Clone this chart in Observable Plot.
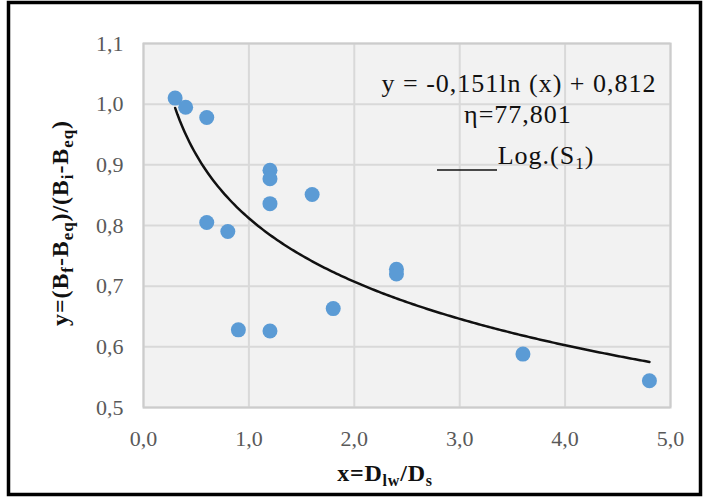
<!DOCTYPE html>
<html><head><meta charset="utf-8">
<script src="https://cdn.jsdelivr.net/npm/d3@7"></script>
<script src="https://cdn.jsdelivr.net/npm/@observablehq/plot@0.6"></script>
<style>body{margin:0;background:#fff}#chart{width:705px;height:499px}</style>
</head><body><div id="chart"></div>
<script>
const xValues = [0.3, 0.4, 0.6, 1.2, 1.2, 1.6, 1.2, 0.6, 0.8, 2.4, 2.4, 1.8, 0.9, 1.2, 3.6, 4.8];
const yValues = [1.010, 0.995, 0.978, 0.891, 0.877, 0.851, 0.836, 0.805, 0.790, 0.728, 0.720, 0.663, 0.628, 0.626, 0.588, 0.544];
const trendSlope = -0.151, trendIntercept = 0.812;
const trendRange = [0.3, 4.8];
const xTicks = [0, 1, 2, 3, 4, 5];
const yTicks = [0.5, 0.6, 0.7, 0.8, 0.9, 1.0, 1.1];
const equationText = "y = -0,151ln (x) + 0,812";
const etaText = "η=77,801";

const points = xValues.map((x, i) => ({x, y: yValues[i]}));
const trend = d3.range(0, 201).map(i => {
  const x = trendRange[0] + (trendRange[1] - trendRange[0]) * i / 200;
  return {x, y: trendSlope * Math.log(x) + trendIntercept};
});
const fmt = d => d.toFixed(1).replace(".", ",");

const plot = Plot.plot({
  width: 705, height: 499,
  marginLeft: 143, marginRight: 35, marginTop: 43, marginBottom: 92,
  style: {fontFamily: "'Liberation Serif', 'Times New Roman', serif", fontSize: "22px", color: "#595959", background: "transparent", overflow: "visible"},
  x: {domain: [0, 5], ticks: xTicks, tickFormat: fmt, tickSize: 0, tickPadding: 23, label: null},
  y: {domain: [0.5, 1.1], ticks: yTicks, tickFormat: fmt, tickSize: 0, tickPadding: 20, label: null},
  marks: [
    Plot.frame({fill: "#f2f2f2", stroke: "none"}),
    Plot.gridX(xTicks, {stroke: "#d9d9d9", strokeOpacity: 1, strokeWidth: 2}),
    Plot.gridY(yTicks, {stroke: "#d9d9d9", strokeOpacity: 1, strokeWidth: 2}),
    Plot.frame({stroke: "#cccccc", strokeWidth: 2}),
    Plot.line(trend, {x: "x", y: "y", stroke: "#111", strokeWidth: 2.5}),
    Plot.dot(points, {x: "x", y: "y", r: 7.5, fill: "#5b9bd5", stroke: "none"})
  ]
});
document.getElementById("chart").appendChild(plot);

const svg = d3.select(plot);
svg.append("rect").attr("x", 8.5).attr("y", 2.5).attr("width", 692).attr("height", 492)
  .attr("fill", "none").attr("stroke", "#000").attr("stroke-width", 3.5);

const serif = "'Liberation Serif', 'Times New Roman', serif";
const ann = svg.append("g").attr("font-family", serif).attr("fill", "#111").attr("font-size", 26).attr("text-anchor", "middle");
ann.append("text").attr("x", 519).attr("y", 92).attr("letter-spacing", 1).text(equationText);
ann.append("text").attr("x", 518).attr("y", 123).attr("letter-spacing", 1).text(etaText);
const lg = ann.append("text").attr("x", 546).attr("y", 164).attr("letter-spacing", 1);
lg.append("tspan").text("Log.(S");
lg.append("tspan").attr("font-size", 17).attr("dy", 5).text("1");
lg.append("tspan").attr("dy", -5).text(")");
svg.append("line").attr("x1", 437).attr("x2", 497).attr("y1", 170).attr("y2", 170).attr("stroke", "#111").attr("stroke-width", 1.5);

function addSub(t, parts, subSize, shift) {
  let pending = 0;
  parts.forEach(([s, sub]) => {
    const sp = t.append("tspan").text(s);
    if (sub) { sp.attr("font-size", subSize).attr("dy", shift); pending = -shift; }
    else if (pending) { sp.attr("dy", pending); pending = 0; }
  });
}
const xt = svg.append("text").attr("x", 385).attr("y", 481).attr("text-anchor", "middle")
  .attr("font-family", serif).attr("font-weight", "bold").attr("font-size", 24).attr("fill", "#111").attr("letter-spacing", 0.8);
addSub(xt, [["x=D"], ["lw", true], ["/D"], ["s", true]], 16, 5);

const yt = svg.append("text").attr("transform", "translate(68,223) rotate(-90)").attr("text-anchor", "middle")
  .attr("font-family", serif).attr("font-weight", "bold").attr("font-size", 24).attr("fill", "#111").attr("letter-spacing", 0.9);
addSub(yt, [["y=(B"], ["f", true], ["-B"], ["eq", true], [")/(B"], ["i", true], ["-B"], ["eq", true], [")"]], 17, 5);
</script>
</body></html>
